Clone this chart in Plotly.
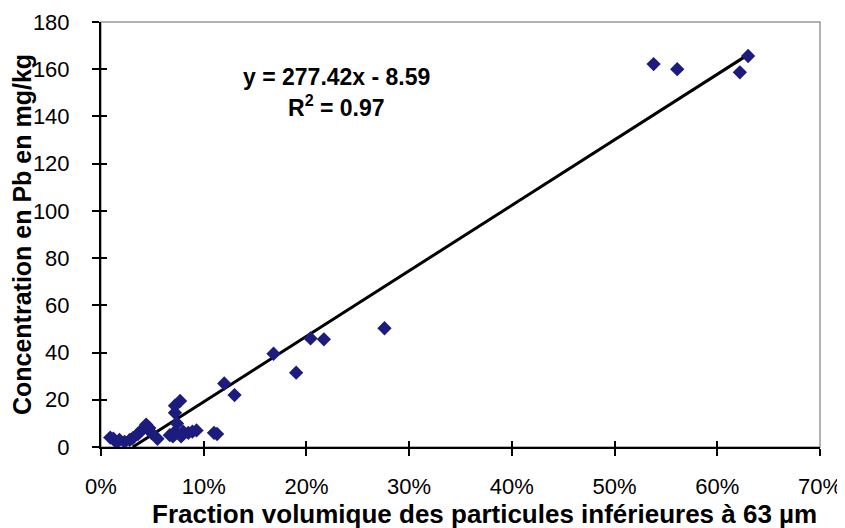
import plotly.graph_objects as go

# Data (x: volume fraction < 63 µm, y: Pb concentration mg/kg)
frac = [0.009, 0.012, 0.015, 0.018, 0.023, 0.028, 0.031, 0.036, 0.038, 0.044, 0.047, 0.049, 0.055,
        0.067, 0.070, 0.072, 0.074, 0.072, 0.072, 0.077, 0.078, 0.080, 0.085, 0.089, 0.093, 0.110, 0.113,
        0.120, 0.130, 0.168, 0.190, 0.204, 0.217, 0.276,
        0.538, 0.561, 0.622, 0.630]
pb = [4.0, 3.5, 2.0, 3.0, 2.2, 3.0, 3.8, 5.5, 6.5, 9.5, 8.0, 6.0, 3.5,
      5.0, 4.5, 6.5, 10.0, 14.5, 17.5, 19.5, 4.5, 6.5, 6.0, 6.5, 7.0, 6.0, 5.5,
      26.9, 22.0, 39.5, 31.5, 46.0, 45.6, 50.3,
      162.2, 160.0, 158.7, 165.6]

slope = 277.42
intercept = -8.59
fit_x = [-intercept / slope, 0.630]
fit_y = [slope * v + intercept for v in fit_x]

x_ticks = [0, 0.1, 0.2, 0.3, 0.4, 0.5, 0.6, 0.7]
x_ticklabels = ["0%", "10%", "20%", "30%", "40%", "50%", "60%", "70%"]
y_ticks = [0, 20, 40, 60, 80, 100, 120, 140, 160, 180]

FONT = "Liberation Sans, Arial, sans-serif"
X_RANGE = [0, 0.7]
Y_RANGE = [0, 180]

fig = go.Figure()
fig.add_trace(go.Scatter(x=fit_x, y=fit_y, mode="lines",
                         line=dict(color="black", width=3), showlegend=False, hoverinfo="skip"))
fig.add_trace(go.Scatter(x=frac, y=pb, mode="markers",
                         marker=dict(symbol="diamond", size=11, color="#1c1c7e",
                                     line=dict(width=0)),
                         showlegend=False))
# invisible trace to carry the overlaying axes (inner half of the crossing ticks)
fig.add_trace(go.Scatter(x=[None], y=[None], xaxis="x2", yaxis="y2", mode="markers",
                         showlegend=False, hoverinfo="skip"))

fig.add_annotation(x=0.2288, y=156.7, xref="x", yref="y", showarrow=False,
                   text="<b>y = 277.42x - 8.59</b>", font=dict(family=FONT, size=23, color="black"))
fig.add_annotation(x=0.2288, y=144.4, xref="x", yref="y", showarrow=False,
                   text="<b>R<sup>2</sup> = 0.97</b>", font=dict(family=FONT, size=23, color="black"))

# x-axis title (slightly right of the plot centre, as in the reference)
fig.add_annotation(x=0.533, y=-0.158, xref="paper", yref="paper", showarrow=False,
                   xanchor="center", yanchor="middle",
                   text="<b>Fraction volumique des particules inférieures à 63 µm</b>",
                   font=dict(family=FONT, size=26, color="black"))

fig.add_shape(type="rect", xref="paper", yref="paper", x0=0, y0=0, x1=1, y1=1,
              line=dict(color="#999999", width=1.5), layer="below")

tick_common = dict(showgrid=False, zeroline=False, tickwidth=1.5, tickcolor="black", automargin=False)

# the page adds an 8px body margin, so the figure is 8px smaller and margins are offset
fig.update_layout(
    width=837, height=520,
    margin=dict(l=93, r=25, t=14, b=81),
    paper_bgcolor="white", plot_bgcolor="white",
    font=dict(family=FONT, size=22, color="black"),
    xaxis=dict(range=X_RANGE, tickvals=x_ticks, ticktext=x_ticklabels,
               showline=True, linecolor="black", linewidth=2,
               ticks="outside", ticklen=7, ticklabelstandoff=12,
               tickfont=dict(size=22),
               **tick_common),
    yaxis=dict(range=Y_RANGE, tickvals=y_ticks,
               showline=True, linecolor="black", linewidth=2,
               ticks="outside", ticklen=7, ticklabelstandoff=18,
               tickfont=dict(size=22),
               title=dict(text="<b>Concentration en Pb en mg/kg</b>", font=dict(size=25), standoff=8),
               **tick_common),
    xaxis2=dict(range=X_RANGE, tickvals=x_ticks, overlaying="x", side="bottom",
                showline=False, showticklabels=False, ticks="inside", ticklen=6, **tick_common),
    yaxis2=dict(range=Y_RANGE, tickvals=y_ticks, overlaying="y", side="left",
                showline=False, showticklabels=False, ticks="inside", ticklen=6, **tick_common),
)

fig.write_html("out.html")
